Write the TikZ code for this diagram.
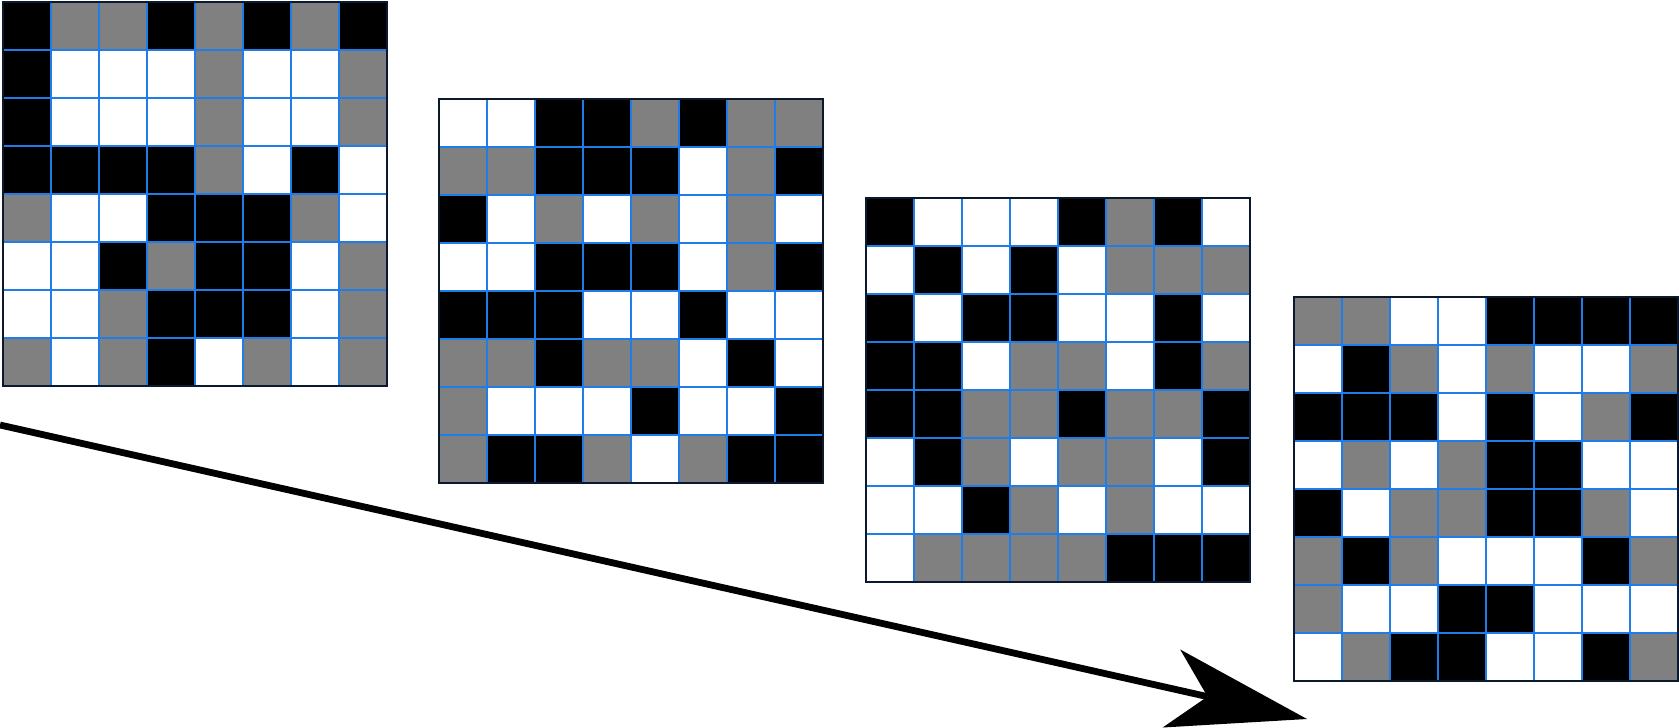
\documentclass[tikz,border=0pt]{standalone}
\usepackage{xcolor}
\usepackage{tikz}
\usetikzlibrary{arrows.meta,positioning}
\definecolor{cellB}{gray}{0}
\definecolor{cellG}{gray}{0.5}
\definecolor{cellW}{gray}{1}
\definecolor{gridblue}{RGB}{30,125,230}
\definecolor{framenavy}{RGB}{10,25,45}
\newcommand{\pixgrid}[4]{%
  \foreach \rowdata [count=\i] in {#4} {
    \foreach \c [count=\j] in \rowdata {
      \node[cell,fill=cell\c] (#1-\i-\j) at ({#2+48*\j-24},{#3+48*\i-24}) {};
    }
  }
  \draw[frame] (#1-1-1.north west) rectangle (#1-8-8.south east);
}

\begin{document}
\begin{tikzpicture}[x=1pt,y=-1pt,
  cell/.style={rectangle,draw=gridblue,line width=2pt,minimum size=48pt,inner sep=0pt,outer sep=0pt},
  frame/.style={draw=framenavy,line width=2.2pt},
  flow/.style={line width=6.8pt,-{Stealth[length=139pt,width=80pt,inset=37pt,line width=0pt]}}]
\useasboundingbox (0,0) rectangle (1679,728);
\pixgrid{g1}{3}{2}{{B,G,G,B,G,B,G,B},{B,W,W,W,G,W,W,G},{B,W,W,W,G,W,W,G},{B,B,B,B,G,W,B,W},
  {G,W,W,B,B,B,G,W},{W,W,B,G,B,B,W,G},{W,W,G,B,B,B,W,G},{G,W,G,B,W,G,W,G}}
\pixgrid{g2}{439}{99}{{W,W,B,B,G,B,G,G},{G,G,B,B,B,W,G,B},{B,W,G,W,G,W,G,W},{W,W,B,B,B,W,G,B},
  {B,B,B,W,W,B,W,W},{G,G,B,G,G,W,B,W},{G,W,W,W,B,W,W,B},{G,B,B,G,W,G,B,B}}
\pixgrid{g3}{866}{198}{{B,W,W,W,B,G,B,W},{W,B,W,B,W,G,G,G},{B,W,B,B,W,W,B,W},{B,B,W,G,G,W,B,G},
  {B,B,G,G,B,G,G,B},{W,B,G,W,G,G,W,B},{W,W,B,G,W,G,W,W},{W,G,G,G,G,B,B,B}}
\pixgrid{g4}{1294}{297}{{G,G,W,W,B,B,B,B},{W,B,G,W,G,W,W,G},{B,B,B,W,B,W,G,B},{W,G,W,G,B,B,W,W},
  {B,W,G,G,B,B,G,W},{G,B,G,W,W,W,B,G},{G,W,W,B,B,W,W,W},{W,G,B,B,W,W,B,G}}
\coordinate (flowstart) at (0,425);
\coordinate (flowend) at (1307,719);
\draw[flow] (flowstart) -- (flowend);
\end{tikzpicture}
\end{document}
